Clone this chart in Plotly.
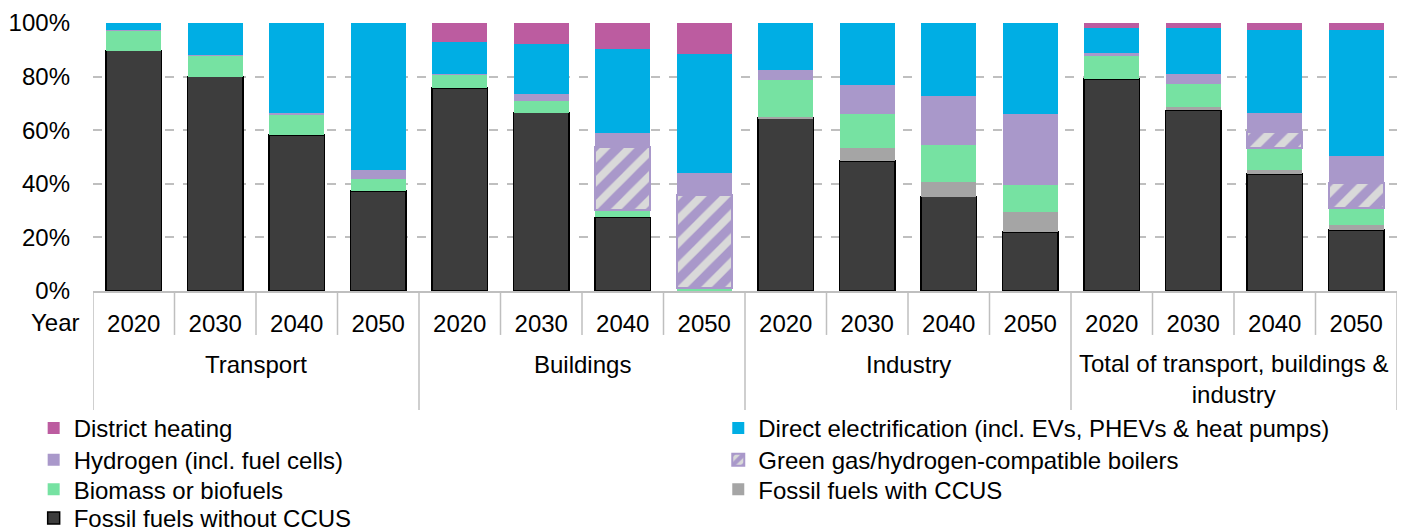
import plotly.graph_objects as go

groups = ["Transport", "Buildings", "Industry", "Total of transport, buildings &<br>industry"]
years = ["2020", "2030", "2040", "2050"]

fossil_no_ccus = [89.7, 80.0, 58.3, 37.4, 75.7, 66.6, 27.5, 0.0, 64.5, 48.6, 35.2, 22.0, 79.1, 67.4, 43.6, 22.7]
fossil_ccus    = [0.0, 0.0, 0.0, 0.0, 0.0, 0.0, 0.0, 0.0, 0.3, 4.7, 5.6, 7.6, 0.0, 1.2, 1.4, 2.0]
biomass        = [7.6, 8.2, 7.7, 4.8, 5.4, 4.8, 2.8, 1.0, 14.3, 13.3, 14.0, 10.4, 9.1, 9.1, 8.3, 6.4]
green_gas      = [0.0, 0.0, 0.0, 0.0, 0.0, 0.0, 23.6, 34.9, 0.0, 0.0, 0.0, 0.0, 0.0, 0.0, 6.2, 9.1]
hydrogen       = [0.0, 0.0, 0.6, 2.9, 0.0, 2.1, 5.0, 8.3, 3.5, 10.4, 18.1, 25.9, 0.6, 3.4, 7.1, 10.2]
electrification = [2.7, 11.8, 33.4, 54.9, 11.9, 18.8, 31.4, 44.1, 17.4, 23.0, 27.1, 34.1, 9.3, 17.0, 30.7, 46.9]
district_heating = [0.0, 0.0, 0.0, 0.0, 7.0, 7.7, 9.7, 11.7, 0.0, 0.0, 0.0, 0.0, 1.9, 1.9, 2.7, 2.7]

tick_labels = years * len(groups)
xpos = list(range(len(tick_labels)))

FONT = "Liberation Sans, Arial, sans-serif"
FS = 24

fig = go.Figure()

# (name, values, colour, legend id)
series = [
    ("Fossil fuels without CCUS", fossil_no_ccus, "#3d3d3d", "legend7"),
    ("Fossil fuels with CCUS", fossil_ccus, "#a5a5a5", "legend6"),
    ("Biomass or biofuels", biomass, "#76e2a2", "legend5"),
    ("Green gas/hydrogen-compatible boilers", green_gas, "#d9d9d9", "legend4"),
    ("Hydrogen (incl. fuel cells)", hydrogen, "#a998ca", "legend3"),
    ("Direct electrification (incl. EVs, PHEVs & heat pumps)", electrification, "#00aee4", "legend2"),
    ("District heating", district_heating, "#bc5ca0", "legend"),
]

for name, vals, color, leg in series:
    marker = dict(color=color, line=dict(width=0))
    if name == "Fossil fuels without CCUS":
        marker["line"] = dict(color="#000000", width=1.5)
    if name.startswith("Green gas"):
        marker = dict(color="#d9d9d9",
                      pattern=dict(shape="/", fgcolor="#a998ca", bgcolor="#d9d9d9",
                                   fgopacity=1, size=17, solidity=0.55),
                      line=dict(color="#a998ca", width=2))
    fig.add_trace(go.Bar(x=xpos, y=vals, name=name, marker=marker, legend=leg,
                         hoverinfo="skip"))

# divider lines for two-level category axis
shapes = []
for k in range(len(tick_labels) + 1):
    y1 = -0.444 if k % 4 == 0 else -0.164
    shapes.append(dict(type="line", xref="x", yref="paper", x0=k - 0.5, x1=k - 0.5,
                       y0=0, y1=y1, line=dict(color="#bfbfbf", width=1.5)))

annotations = []
group_y = [-0.276, -0.276, -0.276, -0.33]
for gi, g in enumerate(groups):
    annotations.append(dict(text=g, x=gi * 4 + 1.5, xref="x", y=group_y[gi], yref="paper",
                            showarrow=False, xanchor="center", yanchor="middle",
                            font=dict(family=FONT, size=FS, color="#000")))
annotations.append(dict(text="Year", x=-0.0085, xref="paper", y=-0.118, yref="paper",
                        showarrow=False, xanchor="right", yanchor="middle",
                        font=dict(family=FONT, size=FS, color="#000")))

def leg(x, y):
    return dict(x=x, y=y, orientation="v", yanchor="top", xanchor="left",
                font=dict(family=FONT, size=FS, color="#000"), tracegroupgap=0,
                itemclick=False, bgcolor="rgba(0,0,0,0)", borderwidth=0)

col1, col2 = -0.0455, 0.4795
rows = [-0.429, -0.547, -0.657, -0.765]

fig.update_layout(
    width=1407, height=531,
    margin=dict(l=85, r=18, t=15, b=248, autoexpand=False),
    barmode="stack", bargap=0.325,
    plot_bgcolor="white", paper_bgcolor="white",
    font=dict(family=FONT, size=FS, color="#000"),
    showlegend=True,
    legend=leg(col1, rows[0]),
    legend2=leg(col2, rows[0]),
    legend3=leg(col1, rows[1]),
    legend4=leg(col2, rows[1]),
    legend5=leg(col1, rows[2]),
    legend6=leg(col2, rows[2]),
    legend7=leg(col1, rows[3]),
    shapes=shapes,
    annotations=annotations,
)
fig.update_xaxes(range=[-0.5, 15.5], tickmode="array", tickvals=xpos, ticktext=tick_labels,
                 showgrid=False, showline=True, linecolor="#bfbfbf", linewidth=1.5,
                 ticks="", ticklabelstandoff=10, zeroline=False,
                 tickfont=dict(family=FONT, size=FS, color="#000"))
fig.update_yaxes(range=[0, 100], tickvals=[0, 20, 40, 60, 80, 100],
                 ticktext=["0%", "20%", "40%", "60%", "80%", "100%"],
                 showgrid=True, gridcolor="#bfbfbf", gridwidth=1.5, griddash="dash",
                 zeroline=False, showline=False, ticks="", ticklabelstandoff=22,
                 tickfont=dict(family=FONT, size=FS, color="#000"))

fig.write_html("out.html")
